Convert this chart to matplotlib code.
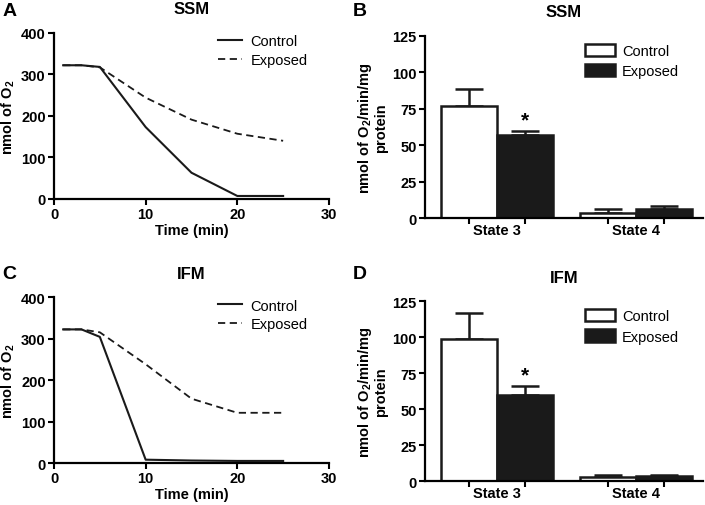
import numpy as np
import matplotlib
matplotlib.use("Agg")
import matplotlib.pyplot as plt
from matplotlib.patches import Patch

plt.rcParams['font.family'] = ['Liberation Sans', 'DejaVu Sans']
plt.rcParams['mathtext.fontset'] = 'custom'
plt.rcParams['mathtext.rm'] = 'Liberation Sans:bold'
plt.rcParams['mathtext.default'] = 'rm'

# --- time courses (nmol O2 remaining) ---
time = [1, 3, 5, 10, 15, 20, 25]
ssm_control = [322, 322, 318, 173, 63, 7, 7]
ssm_exposed = [322, 322, 317, 244, 191, 157, 140]
ifm_control = [322, 322, 304, 8, 6, 5, 5]
ifm_exposed = [322, 322, 315, 238, 155, 121, 121]

# --- respiration rates ---
states = ['State 3', 'State 4']
ssm_rate_control = [76.8, 3.7]
ssm_err_control = [11.9, 2.7]
ssm_rate_exposed = [57.0, 6.0]
ssm_err_exposed = [2.6, 2.2]
ifm_rate_control = [98.5, 2.6]
ifm_err_control = [18.2, 2.0]
ifm_rate_exposed = [60.0, 3.3]
ifm_err_exposed = [6.2, 1.0]

FS = 10.5
fig = plt.figure(figsize=(7.05, 5.06), dpi=100)


def style_axes(ax):
    for s in ['top', 'right']:
        ax.spines[s].set_visible(False)
    for s in ['left', 'bottom']:
        ax.spines[s].set_linewidth(1.6)
    ax.tick_params(direction='out', width=1.5, length=4, labelsize=FS, pad=2)
    for lab in ax.get_xticklabels() + ax.get_yticklabels():
        lab.set_fontweight('bold')


def line_panel(rect, title, ctrl, expo):
    ax = fig.add_axes(rect)
    ax.plot(time, ctrl, color='#1a1a1a', lw=1.5, label='Control')
    ax.plot(time, expo, color='#1a1a1a', lw=1.3, ls=(0, (4, 2.5)), label='Exposed')
    ax.set_xlim(0, 30)
    ax.set_ylim(0, 400)
    ax.set_xticks([0, 10, 20, 30])
    ax.set_yticks([0, 100, 200, 300, 400])
    ax.set_xlabel('Time (min)', fontsize=FS, fontweight='bold', labelpad=1)
    ax.set_ylabel('nmol of O$_2$', fontsize=FS, fontweight='bold', labelpad=3)
    ax.set_title(title, fontsize=12, fontweight='bold', pad=14)
    style_axes(ax)
    ax.legend(loc='upper left', bbox_to_anchor=(0.55, 1.07), frameon=False,
              fontsize=FS, handlelength=1.6, handletextpad=0.6, labelspacing=0.3)
    return ax


def bar_panel(rect, title, rc, ec, rx, ex):
    ax = fig.add_axes(rect)
    pos_c = np.array([0.0, 2.5])
    pos_e = pos_c + 1.0
    ax.bar(pos_c, rc, width=1.0, color='white', edgecolor='#1a1a1a', lw=1.8,
           label='Control', zorder=2)
    ax.bar(pos_e, rx, width=1.0, color='#1a1a1a', edgecolor='#1a1a1a', lw=1.8,
           label='Exposed', zorder=2)
    ax.errorbar(pos_c, rc, yerr=[np.zeros(2), ec], fmt='none', ecolor='#1a1a1a',
                elinewidth=1.8, capsize=10, capthick=1.8, zorder=1)
    ax.errorbar(pos_e, rx, yerr=[np.zeros(2), ex], fmt='none', ecolor='#1a1a1a',
                elinewidth=1.8, capsize=10, capthick=1.8, zorder=1)
    ax.text(pos_e[0], rx[0] + ex[0] + 1.0, '*', ha='center', va='bottom',
            fontsize=15, fontweight='bold')
    ax.set_xlim(-0.79, 4.2)
    ax.set_ylim(0, 125)
    ax.set_yticks([0, 25, 50, 75, 100, 125])
    ax.set_xticks(np.concatenate([pos_c, pos_e]))
    ax.set_xticklabels([])
    for i, st in enumerate(states):
        ax.text((pos_c[i] + pos_e[i]) / 2, -3.5, st, transform=ax.transData,
                ha='center', va='top', fontsize=FS, fontweight='bold')
    ax.set_ylabel('nmol of O$_2$/min/mg\nprotein', fontsize=FS, fontweight='bold',
                  labelpad=3, linespacing=1.0)
    ax.set_title(title, fontsize=12, fontweight='bold', pad=14)
    style_axes(ax)
    handles = [Patch(facecolor='white', edgecolor='#1a1a1a', lw=1.8),
               Patch(facecolor='#1a1a1a', edgecolor='#1a1a1a', lw=1.8)]
    ax.legend(handles, ['Control', 'Exposed'], loc='upper left',
              bbox_to_anchor=(0.53, 1.03), frameon=False, fontsize=FS,
              handlelength=2.0, handleheight=0.9, handletextpad=0.5,
              labelspacing=0.45)
    return ax


line_panel([0.0766, 0.605, 0.390, 0.328], 'SSM', ssm_control, ssm_exposed)
line_panel([0.0766, 0.083, 0.390, 0.328], 'IFM', ifm_control, ifm_exposed)
bar_panel([0.603, 0.567, 0.394, 0.360], 'SSM',
          ssm_rate_control, ssm_err_control, ssm_rate_exposed, ssm_err_exposed)
bar_panel([0.603, 0.047, 0.394, 0.356], 'IFM',
          ifm_rate_control, ifm_err_control, ifm_rate_exposed, ifm_err_exposed)

for letter, x, y in [('A', 0.003, 0.995), ('B', 0.500, 0.995),
                     ('C', 0.003, 0.475), ('D', 0.500, 0.475)]:
    fig.text(x, y, letter, fontsize=14, fontweight='bold', va='top', ha='left')

fig.savefig('out.png', dpi=100)
